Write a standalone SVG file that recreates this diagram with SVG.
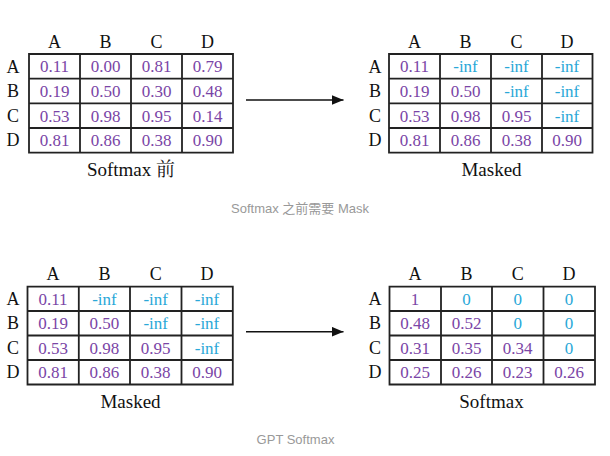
<svg xmlns="http://www.w3.org/2000/svg" width="610" height="456" viewBox="0 0 610 456">
<defs>
<style>
.grid{fill:none;stroke:#222;stroke-width:1.8}
.hd{font-size:18px;fill:#111;text-anchor:middle}
.v{font-size:17px;fill:#7a45a6;text-anchor:middle}
.c{font-size:17px;fill:#2aa8d8;text-anchor:middle}
.tt{font-size:19px;fill:#111;text-anchor:middle}
.cap{font-family:'Liberation Sans','Noto Sans CJK SC',sans-serif;font-size:13px;fill:#999;text-anchor:middle}
.arr{stroke:#111;stroke-width:1.6;fill:none}
</style>
<marker id="ah" viewBox="0 0 12 10" refX="12" refY="5" markerWidth="12" markerHeight="10" markerUnits="userSpaceOnUse" orient="auto">
<path d="M0,0 L12,5 L0,10 Z" fill="#111"/>
</marker>
</defs>
<rect width="610" height="456" fill="#fff"/>

<g id="matrix-before" font-family="Liberation Serif, Noto Serif CJK SC, Noto Sans CJK SC, serif">
<path class="grid" d="M29,54H233V152.7H29Z M29,78.7H233 M29,103.3H233 M29,128H233 M80,54V152.7 M131,54V152.7 M182,54V152.7"/>
<text class="hd" x="54.5" y="48">A</text><text class="hd" x="105.5" y="48">B</text><text class="hd" x="156.5" y="48">C</text><text class="hd" x="207.5" y="48">D</text>
<text class="hd" x="13" y="72.5">A</text><text class="hd" x="13" y="97">B</text><text class="hd" x="13" y="121.6">C</text><text class="hd" x="13" y="146.3">D</text>
<text class="v" x="54.5" y="72.3">0.11</text><text class="v" x="105.5" y="72.3">0.00</text><text class="v" x="156.5" y="72.3">0.81</text><text class="v" x="207.5" y="72.3">0.79</text>
<text class="v" x="54.5" y="97">0.19</text><text class="v" x="105.5" y="97">0.50</text><text class="v" x="156.5" y="97">0.30</text><text class="v" x="207.5" y="97">0.48</text>
<text class="v" x="54.5" y="121.6">0.53</text><text class="v" x="105.5" y="121.6">0.98</text><text class="v" x="156.5" y="121.6">0.95</text><text class="v" x="207.5" y="121.6">0.14</text>
<text class="v" x="54.5" y="146.3">0.81</text><text class="v" x="105.5" y="146.3">0.86</text><text class="v" x="156.5" y="146.3">0.38</text><text class="v" x="207.5" y="146.3">0.90</text>
<text class="tt" x="131" y="176">Softmax 前</text>
</g>

<g id="matrix-masked-top" font-family="Liberation Serif, serif">
<path class="grid" d="M389,54H592.5V152.7H389Z M389,78.7H592.5 M389,103.3H592.5 M389,128H592.5 M440,54V152.7 M491,54V152.7 M542,54V152.7"/>
<text class="hd" x="414.5" y="48">A</text><text class="hd" x="465.5" y="48">B</text><text class="hd" x="516.5" y="48">C</text><text class="hd" x="567" y="48">D</text>
<text class="hd" x="375" y="72.5">A</text><text class="hd" x="375" y="97">B</text><text class="hd" x="375" y="121.6">C</text><text class="hd" x="375" y="146.3">D</text>
<text class="v" x="414.5" y="72.3">0.11</text><text class="c" x="465.5" y="72.3">-inf</text><text class="c" x="516.5" y="72.3">-inf</text><text class="c" x="567" y="72.3">-inf</text>
<text class="v" x="414.5" y="97">0.19</text><text class="v" x="465.5" y="97">0.50</text><text class="c" x="516.5" y="97">-inf</text><text class="c" x="567" y="97">-inf</text>
<text class="v" x="414.5" y="121.6">0.53</text><text class="v" x="465.5" y="121.6">0.98</text><text class="v" x="516.5" y="121.6">0.95</text><text class="c" x="567" y="121.6">-inf</text>
<text class="v" x="414.5" y="146.3">0.81</text><text class="v" x="465.5" y="146.3">0.86</text><text class="v" x="516.5" y="146.3">0.38</text><text class="v" x="567" y="146.3">0.90</text>
<text class="tt" x="491.5" y="176">Masked</text>
</g>

<g id="matrix-masked-bottom" font-family="Liberation Serif, serif">
<path class="grid" d="M27.5,286.7H232.8V384.5H27.5Z M27.5,311H232.8 M27.5,335.5H232.8 M27.5,360H232.8 M78.8,286.7V384.5 M130,286.7V384.5 M181.5,286.7V384.5"/>
<text class="hd" x="53" y="280">A</text><text class="hd" x="104.4" y="280">B</text><text class="hd" x="155.7" y="280">C</text><text class="hd" x="207" y="280">D</text>
<text class="hd" x="13" y="305">A</text><text class="hd" x="13" y="329.4">B</text><text class="hd" x="13" y="353.8">C</text><text class="hd" x="13" y="378.3">D</text>
<text class="v" x="53" y="304.8">0.11</text><text class="c" x="104.4" y="304.8">-inf</text><text class="c" x="155.7" y="304.8">-inf</text><text class="c" x="207" y="304.8">-inf</text>
<text class="v" x="53" y="329.2">0.19</text><text class="v" x="104.4" y="329.2">0.50</text><text class="c" x="155.7" y="329.2">-inf</text><text class="c" x="207" y="329.2">-inf</text>
<text class="v" x="53" y="353.7">0.53</text><text class="v" x="104.4" y="353.7">0.98</text><text class="v" x="155.7" y="353.7">0.95</text><text class="c" x="207" y="353.7">-inf</text>
<text class="v" x="53" y="378.2">0.81</text><text class="v" x="104.4" y="378.2">0.86</text><text class="v" x="155.7" y="378.2">0.38</text><text class="v" x="207" y="378.2">0.90</text>
<text class="tt" x="130.5" y="408">Masked</text>
</g>

<g id="matrix-softmax" font-family="Liberation Serif, serif">
<path class="grid" d="M389.5,286.7H595V384.5H389.5Z M389.5,311H595 M389.5,335.5H595 M389.5,360H595 M441,286.7V384.5 M492,286.7V384.5 M543.5,286.7V384.5"/>
<text class="hd" x="415" y="280">A</text><text class="hd" x="466.5" y="280">B</text><text class="hd" x="517.7" y="280">C</text><text class="hd" x="569" y="280">D</text>
<text class="hd" x="375" y="305">A</text><text class="hd" x="375" y="329.4">B</text><text class="hd" x="375" y="353.8">C</text><text class="hd" x="375" y="378.3">D</text>
<text class="v" x="415" y="304.8">1</text><text class="c" x="466.5" y="304.8">0</text><text class="c" x="517.7" y="304.8">0</text><text class="c" x="569" y="304.8">0</text>
<text class="v" x="415" y="329.2">0.48</text><text class="v" x="466.5" y="329.2">0.52</text><text class="c" x="517.7" y="329.2">0</text><text class="c" x="569" y="329.2">0</text>
<text class="v" x="415" y="353.7">0.31</text><text class="v" x="466.5" y="353.7">0.35</text><text class="v" x="517.7" y="353.7">0.34</text><text class="c" x="569" y="353.7">0</text>
<text class="v" x="415" y="378.2">0.25</text><text class="v" x="466.5" y="378.2">0.26</text><text class="v" x="517.7" y="378.2">0.23</text><text class="v" x="569" y="378.2">0.26</text>
<text class="tt" x="491.5" y="408">Softmax</text>
</g>

<g id="connectors">
<line class="arr" x1="246" y1="100" x2="343.5" y2="100" marker-end="url(#ah)"/>
<line class="arr" x1="246" y1="331.7" x2="343.5" y2="331.7" marker-end="url(#ah)"/>
</g>

<text class="cap" x="300" y="213">Softmax 之前需要 Mask</text>
<text class="cap" x="295.5" y="444">GPT Softmax</text>
</svg>
